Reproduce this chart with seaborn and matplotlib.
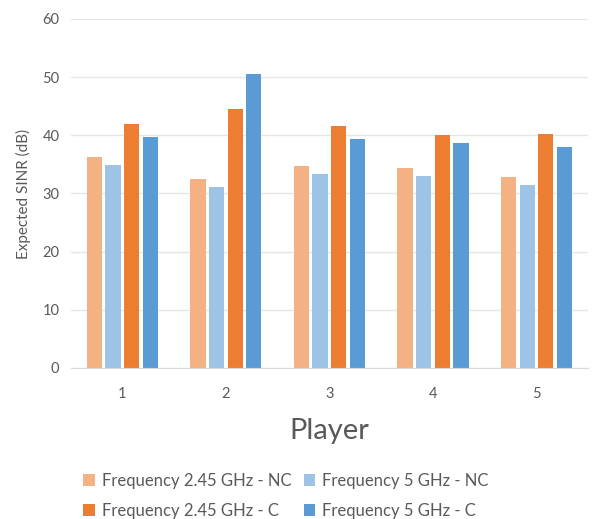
import matplotlib
matplotlib.use("Agg")
import matplotlib.pyplot as plt
import seaborn as sns
import pandas as pd

players = ["1", "2", "3", "4", "5"]
series_names = [
    "Frequency 2.45 GHz - NC",
    "Frequency 5 GHz - NC",
    "Frequency 2.45 GHz - C",
    "Frequency 5 GHz - C",
]
sinr_245_nc = [36.2, 32.5, 34.7, 34.3, 32.8]
sinr_5_nc = [34.9, 31.1, 33.4, 33.0, 31.5]
sinr_245_c = [41.9, 44.5, 41.6, 40.1, 40.2]
sinr_5_c = [39.7, 50.6, 39.3, 38.6, 38.0]
y_ticks = [0, 10, 20, 30, 40, 50, 60]

colors = ["#F4B183", "#9DC3E6", "#ED7D31", "#5B9BD5"]
text_color = "#595959"

rows = []
for name, vals in zip(series_names, [sinr_245_nc, sinr_5_nc, sinr_245_c, sinr_5_c]):
    for p, v in zip(players, vals):
        rows.append({"Player": p, "SINR": v, "Series": name})
df = pd.DataFrame(rows)

sns.set_style("white")
plt.rcParams["font.family"] = ["Lato", "DejaVu Sans"]

fig = plt.figure(figsize=(5.93, 5.19), dpi=100)
ax = fig.add_axes([0.119, 0.291, 0.873, 0.6724])

sns.barplot(data=df, x="Player", y="SINR", hue="Series", order=players,
            hue_order=series_names, palette=colors, saturation=1,
            width=0.72, gap=0.18, ax=ax, legend=True, edgecolor="none")

ax.set_ylim(0, 60)
ax.set_xlim(-0.5, 4.5)
ax.set_yticks(y_ticks)
ax.yaxis.grid(True, color="#E6E6E6", linewidth=1)
ax.set_axisbelow(True)
for s in ["top", "right", "left"]:
    ax.spines[s].set_visible(False)
ax.spines["bottom"].set_color("#D9D9D9")
ax.tick_params(axis="both", length=0, labelsize=10.5, colors=text_color, pad=8)
ax.tick_params(axis="x", pad=14)
ax.set_ylabel("Expected SINR (dB)", fontsize=11, color=text_color, labelpad=8)
ax.set_xlabel("Player", fontsize=21, color=text_color, labelpad=12)

# two rows: NC series on top, C series below
handles, labels = ax.get_legend_handles_labels()
order = [0, 2, 1, 3]
ax.legend([handles[i] for i in order], [labels[i] for i in order], ncol=2,
          frameon=False, loc="upper left", bbox_to_anchor=(-0.004, -0.257),
          fontsize=12, labelcolor=text_color,
          handlelength=0.7, handleheight=0.7, handletextpad=0.4,
          columnspacing=0.75, labelspacing=0.87)

fig.savefig("out.png", dpi=100)
